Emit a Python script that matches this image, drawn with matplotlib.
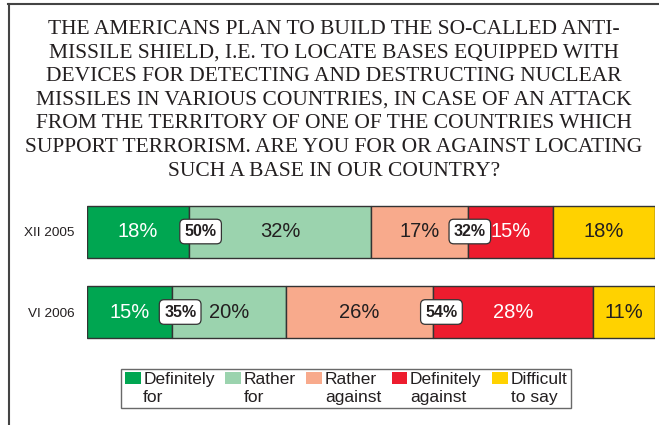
import numpy as np
import matplotlib.pyplot as plt
from matplotlib.lines import Line2D

# данные
periods = ['XII 2005', 'VI 2006']
answers = ['Definitely\nfor', 'Rather\nfor', 'Rather\nagainst', 'Definitely\nagainst', 'Difficult\nto say']
values = np.array([[18, 32, 17, 15, 18],
                   [15, 20, 26, 28, 11]])
sum_for = [50, 35]        # сумма "за"
sum_against = [32, 54]    # сумма "против"

colors = ['#00A651', '#9BD3AE', '#F8AA8C', '#ED1C2E', '#FFD200']
txt_colors = ['white', '#231F20', '#231F20', 'white', '#231F20']
dark = '#231F20'

fig = plt.figure(figsize=(6.59, 4.25), dpi=100)
W, H = 659, 425
ax = fig.add_axes([87 / W, 1 - 350 / H, 568 / W, 160 / H])

y = np.arange(len(periods))
left = np.zeros(len(periods))
for j in range(len(answers)):
    ax.barh(y, values[:, j], left=left, height=0.646, color=colors[j],
            edgecolor='#333333', linewidth=1, label=answers[j])
    for i in range(len(periods)):
        ax.text(left[i] + values[i, j] / 2, y[i], f'{values[i, j]}%',
                ha='center', va='center', fontsize=14.5, color=txt_colors[j],
                family='Liberation Sans')
    left = left + values[:, j]

# подписи-суммы на границах
box = dict(boxstyle='round,pad=0.3,rounding_size=0.3', fc='white', ec='#333333', lw=0.9)
b_for = values[:, 0]
b_against = values[:, :3].sum(axis=1)
offs_for = [2.0, 1.4]
offs_ag = [0.4, 1.4]
for i in range(len(periods)):
    ax.text(b_for[i] + offs_for[i], y[i], f'{sum_for[i]}%', ha='center', va='center',
            fontsize=11.5, fontweight='bold', color=dark, bbox=box, family='Liberation Sans')
    ax.text(b_against[i] + offs_ag[i], y[i], f'{sum_against[i]}%', ha='center', va='center',
            fontsize=11.5, fontweight='bold', color=dark, bbox=box, family='Liberation Sans')

ax.set_xlim(0, 100)
ax.set_ylim(1.472, -0.516)
ax.set_yticks(y)
ax.set_yticklabels(periods, fontsize=9.7, color=dark, family='Liberation Sans')
ax.tick_params(axis='y', length=0, pad=9)
ax.set_xticks([])
for s in ax.spines.values():
    s.set_visible(False)

title = ('THE AMERICANS PLAN TO BUILD THE SO-CALLED ANTI-\n'
         'MISSILE SHIELD, I.E. TO LOCATE BASES EQUIPPED WITH\n'
         'DEVICES FOR DETECTING AND DESTRUCTING NUCLEAR\n'
         'MISSILES IN VARIOUS COUNTRIES, IN CASE OF AN ATTACK\n'
         'FROM THE TERRITORY OF ONE OF THE COUNTRIES WHICH\n'
         'SUPPORT TERRORISM. ARE YOU FOR OR AGAINST LOCATING\n'
         'SUCH A BASE IN OUR COUNTRY?')
fig.text(0.507, 1 - 20 / H, title, ha='center', va='top', fontsize=15.5,
         family='Liberation Serif', color=dark, linespacing=1.33)

# рамка
fig.add_artist(Line2D([8.5 / W, 8.5 / W], [0, 1 - 4 / H], color='#444444', lw=1.5))
fig.add_artist(Line2D([8 / W, 1], [1 - 4 / H, 1 - 4 / H], color='#444444', lw=1.5))

leg = ax.legend(loc='center', bbox_to_anchor=(346 / W, 1 - 388.5 / H),
                bbox_transform=fig.transFigure, ncol=5, frameon=True, fancybox=False,
                edgecolor='#444444', prop={'family': 'Liberation Sans', 'size': 12.5},
                handlelength=0.92, handleheight=0.6, handletextpad=0.15,
                columnspacing=0.6, borderpad=0.2, labelspacing=0.2)
leg.get_frame().set_linewidth(1.0)
for t in leg.get_texts():
    t.set_color(dark)
    t.set_linespacing(1.17)
for p in leg.get_patches():
    p.set_edgecolor('none')
for col in leg._legend_handle_box.get_children():
    for row in col.get_children():
        row.align = 'top'

fig.savefig('out.png', dpi=100)
